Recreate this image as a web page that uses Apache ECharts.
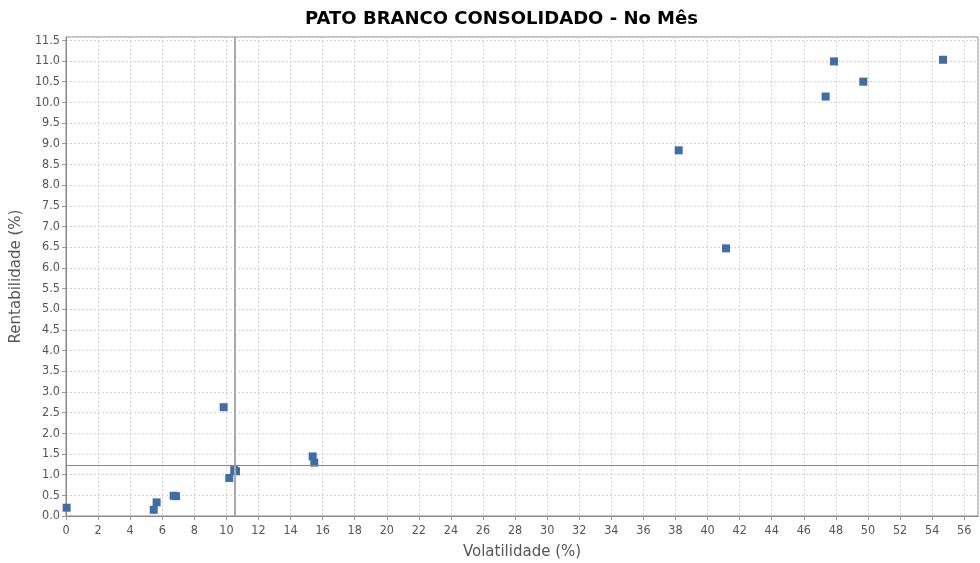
<!DOCTYPE html>
<html>
<head>
<meta charset="utf-8">
<script src="https://cdn.jsdelivr.net/npm/echarts@6/dist/echarts.min.js"></script>
<style>
  html, body { margin: 0; padding: 0; background: #fff; }
  #chart { width: 980px; height: 563px; }
</style>
</head>
<body>
<div id="chart"></div>
<script>
// volatility (%) and return (%) per fund
const volatilidade = [0.04, 5.47, 5.65, 6.71, 6.86, 9.83, 10.18, 10.49, 10.6, 15.38, 15.48, 38.2, 41.15, 47.36, 47.88, 49.71, 54.68];
const rentabilidade = [0.2, 0.15, 0.33, 0.49, 0.48, 2.63, 0.92, 1.11, 1.08, 1.44, 1.29, 8.84, 6.47, 10.14, 10.99, 10.5, 11.03];

// reference lines (average)
const mediaVolatilidade = 10.5;
const mediaRentabilidade = 1.22;

const pontos = volatilidade.map((v, i) => [v, rentabilidade[i]]);

const chart = echarts.init(document.getElementById('chart'), null, { renderer: 'canvas' });

const labelFont = { color: '#555', fontSize: 12.5, fontFamily: 'DejaVu Sans Condensed' };
const nameFont = { color: '#555', fontSize: 15, fontFamily: 'DejaVu Sans' };

chart.setOption({
  animation: false,
  backgroundColor: '#fff',
  title: {
    text: 'PATO BRANCO CONSOLIDADO - No Mês',
    left: 300,
    top: 5,
    textStyle: { color: '#000', fontSize: 18, fontWeight: 'bold', fontFamily: 'DejaVu Sans' }
  },
  grid: {
    left: 66, right: 2, top: 37, bottom: 47,
    outerBoundsMode: 'none',
    containLabel: false,
    show: true, borderColor: '#888', borderWidth: 1
  },
  xAxis: {
    type: 'value',
    min: 0,
    max: 56.86,
    interval: 2,
    name: 'Volatilidade (%)',
    nameLocation: 'middle',
    nameGap: 29,
    nameTextStyle: nameFont,
    axisLine: { show: true, lineStyle: { color: '#888' } },
    axisTick: { show: true, length: 4, lineStyle: { color: '#999' } },
    axisLabel: Object.assign({ margin: 8, showMaxLabel: false }, labelFont),
    splitLine: { show: true, lineStyle: { color: '#d4d4d4', type: [2, 2] } }
  },
  yAxis: {
    type: 'value',
    min: 0,
    max: 11.58,
    interval: 0.5,
    name: 'Rentabilidade (%)',
    nameLocation: 'middle',
    nameGap: 37,
    nameTextStyle: nameFont,
    axisLine: { show: true, lineStyle: { color: '#888' } },
    axisTick: { show: true, length: 4, lineStyle: { color: '#999' } },
    axisLabel: Object.assign({
      margin: 6,
      showMaxLabel: false,
      formatter: v => v.toFixed(1)
    }, labelFont),
    splitLine: { show: true, lineStyle: { color: '#d4d4d4', type: [2, 2] } }
  },
  series: [{
    type: 'scatter',
    data: pontos,
    symbol: 'rect',
    symbolSize: 8,
    itemStyle: { color: '#3f6ea6', opacity: 1 },
    markLine: {
      silent: true,
      symbol: 'none',
      label: { show: false },
      data: [
        { xAxis: mediaVolatilidade, lineStyle: { color: '#aaa', width: 2, type: 'solid' } },
        { yAxis: mediaRentabilidade, lineStyle: { color: '#888', width: 1, type: 'solid' } }
      ]
    }
  }]
});
</script>
</body>
</html>
